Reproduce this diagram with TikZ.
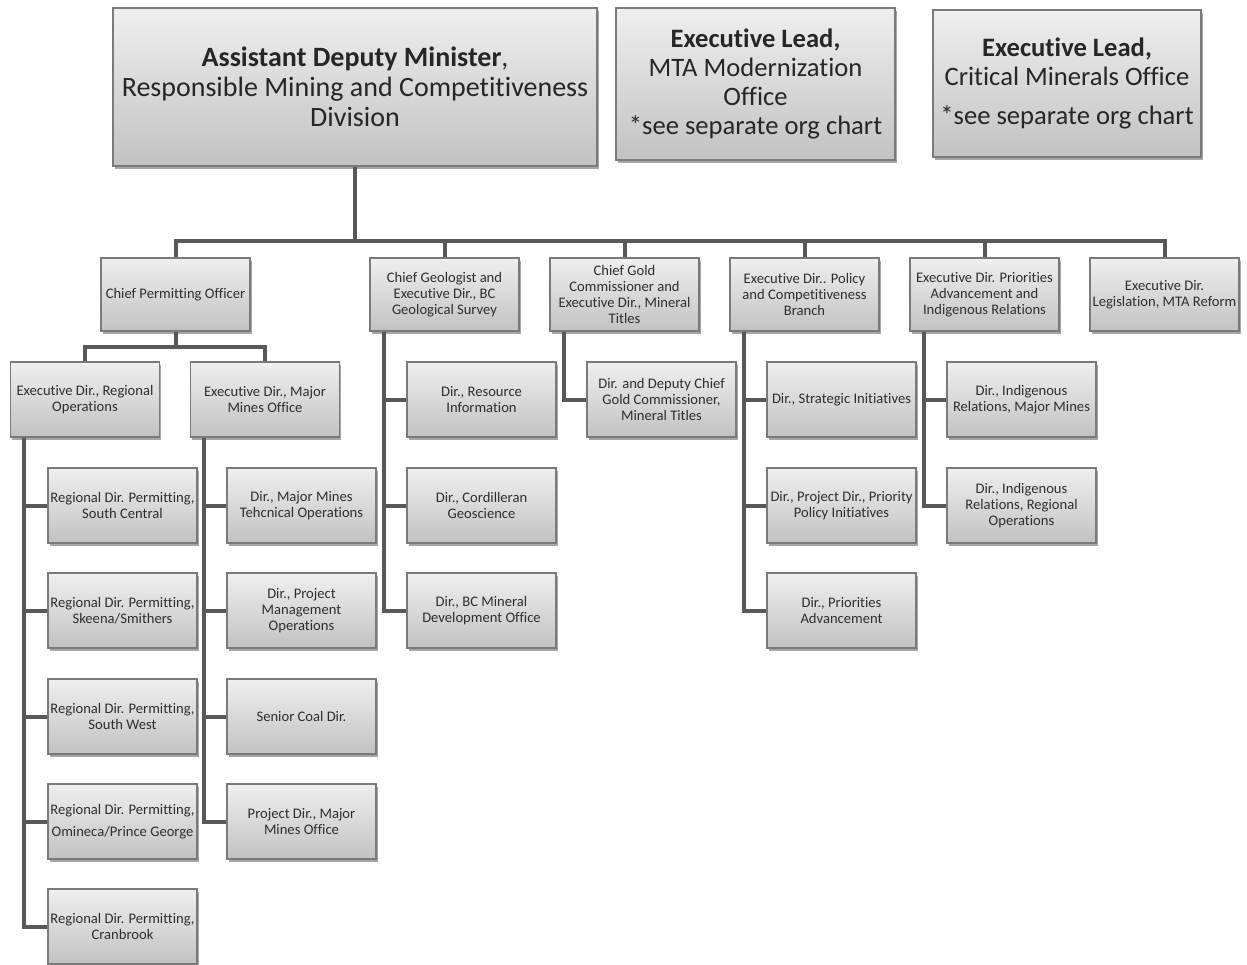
\documentclass[tikz,border=0pt]{standalone}
\usepackage{fontspec}
\setmainfont{Carlito}[Ligatures=NoCommon]
\usetikzlibrary{shadows,calc}
\definecolor{linec}{HTML}{585858}
\definecolor{boxb}{HTML}{7A7A7A}
\definecolor{topc}{HTML}{EFEFEF}
\definecolor{botc}{HTML}{C2C2C2}
\definecolor{txt}{HTML}{2E2E2E}
\begin{document}
\begin{tikzpicture}[x=1pt,y=-1pt,
  box/.style={draw=boxb, line width=1.2pt, top color=topc, bottom color=botc,
    drop shadow={shadow xshift=1.5pt, shadow yshift=-2.5pt, opacity=0.35, fill=black},
    align=center, inner sep=1pt, text=txt, font=\fontsize{14.6}{16}\selectfont},
  sbox/.style={box, minimum width=149pt, minimum height=75pt},
  bigbox/.style={box, text=black!85},
  conn/.style={draw=linec, line width=4pt}]
\useasboundingbox (0,0) rectangle (1247,964);
% top boxes
\node[bigbox, minimum width=484pt, minimum height=158pt, font=\fontsize{28}{30}\selectfont] (adm) at (355,87)
  {\textbf{Assistant Deputy Minister},\\Responsible Mining and Competitiveness\\Division};
\node[bigbox, minimum width=279pt, minimum height=152pt, font=\fontsize{26.6}{29}\selectfont] (mta) at (755.5,84)
  {\textbf{Executive Lead,}\\MTA Modernization\\Office\\*see separate org chart};
\node[bigbox, minimum width=268pt, minimum height=147pt, font=\fontsize{26.6}{29}\selectfont] (cmo) at (1067,83.5)
  {\textbf{Executive Lead,}\\Critical Minerals Office\\[10pt]*see separate org chart};
% level 1
\node[sbox, minimum height=73pt] (cpo) at (175.5,294.5) {Chief Permitting Officer};
\node[sbox, minimum height=73pt] (geo) at (444.5,294.5) {Chief Geologist and\\Executive Dir., BC\\Geological Survey};
\node[sbox, minimum height=73pt] (gold) at (624.5,294.5) {Chief Gold\\Commissioner and\\Executive Dir., Mineral\\Titles};
\node[sbox, minimum height=73pt] (pol) at (804.5,294.5) {Executive Dir.. Policy\\and Competitiveness\\Branch};
\node[sbox, minimum height=73pt] (pri) at (984.5,294.5) {Executive Dir. Priorities\\Advancement and\\Indigenous Relations};
\node[sbox, minimum height=73pt] (leg) at (1164.5,294.5) {Executive Dir.\\Legislation, MTA Reform};
% level 2 under CPO
\node[sbox] (reg) at (85,399.5) {Executive Dir., Regional\\Operations};
\node[sbox] (mmo) at (265,399.5) {Executive Dir., Major\\Mines Office};
% regional children
\node[sbox] (r1) at (122.5,505.5) {Regional Dir. Permitting,\\South Central};
\node[sbox] (r2) at (122.5,610.5) {Regional Dir. Permitting,\\Skeena/Smithers};
\node[sbox] (r3) at (122.5,716.5) {Regional Dir. Permitting,\\South West};
\node[sbox] (r4) at (122.5,821.5) {Regional Dir. Permitting,\\[6pt]Omineca/Prince George};
\node[sbox] (r5) at (122.5,926.5) {Regional Dir. Permitting,\\Cranbrook};
% major mines children
\node[sbox] (m1) at (301.5,505.5) {Dir., Major Mines\\Tehcnical Operations};
\node[sbox] (m2) at (301.5,610.5) {Dir., Project\\Management\\Operations};
\node[sbox] (m3) at (301.5,716.5) {Senior Coal Dir.};
\node[sbox] (m4) at (301.5,821.5) {Project Dir., Major\\Mines Office};
% geo children
\node[sbox] (g1) at (481.5,399.5) {Dir., Resource\\Information};
\node[sbox] (g2) at (481.5,505.5) {Dir., Cordilleran\\Geoscience};
\node[sbox] (g3) at (481.5,610.5) {Dir., BC Mineral\\Development Office};
% gold child
\node[sbox] (au1) at (661.5,399.5) {Dir. and Deputy Chief\\Gold Commissioner,\\Mineral Titles};
% policy children
\node[sbox] (p1) at (841.5,399.5) {Dir., Strategic Initiatives};
\node[sbox] (p2) at (841.5,505.5) {Dir., Project Dir., Priority\\Policy Initiatives};
\node[sbox] (p3) at (841.5,610.5) {Dir., Priorities\\Advancement};
% priorities children
\node[sbox] (i1) at (1021.5,399.5) {Dir., Indigenous\\Relations, Major Mines};
\node[sbox] (i2) at (1021.5,505.5) {Dir., Indigenous\\Relations, Regional\\Operations};
% connectors
\coordinate (bus) at (355,241);
\coordinate (cbus) at (175.5,347);
\draw[conn] (adm.south) -- (bus);
\foreach \n in {cpo,geo,gold,pol,pri,leg}{
  \draw[conn] (bus) -| (\n.north);
}
\draw[conn] (cpo.south) -- (cbus);
\draw[conn] (cbus) -| (reg.north);
\draw[conn] (cbus) -| (mmo.north);
\foreach \p/\c in {reg/r1,reg/r2,reg/r3,reg/r4,reg/r5,mmo/m1,mmo/m2,mmo/m3,mmo/m4,geo/g1,geo/g2,geo/g3,gold/au1,pol/p1,pol/p2,pol/p3,pri/i1,pri/i2}{
  \draw[conn] ([xshift=14.5pt]\p.south west) |- (\c.west);
}
\end{tikzpicture}
\end{document}
